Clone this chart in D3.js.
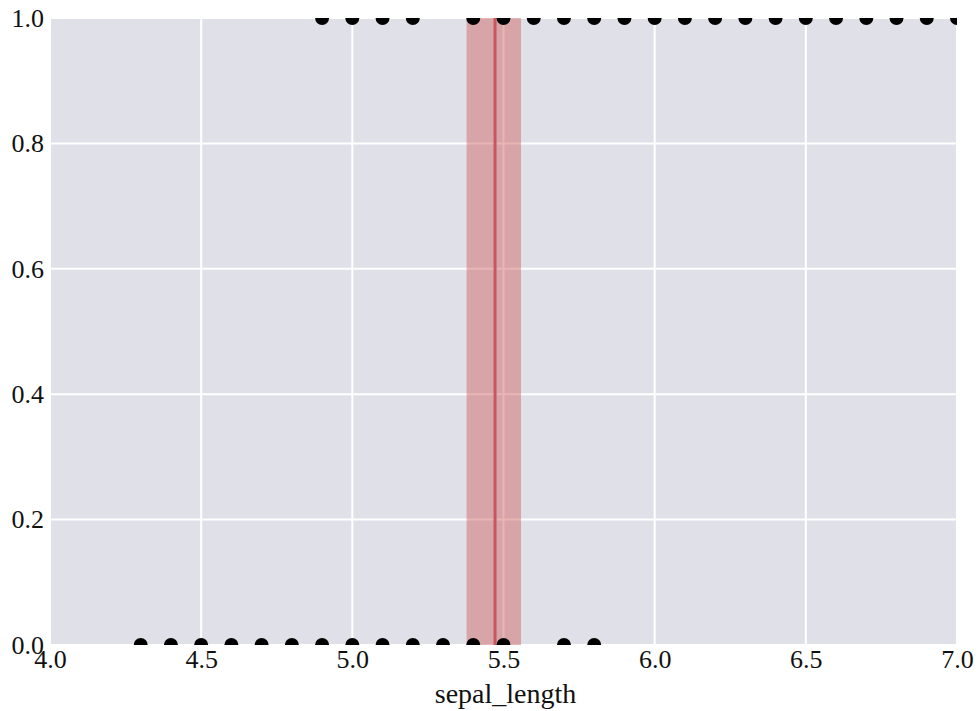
<!DOCTYPE html>
<html><head><meta charset="utf-8">
<script src="https://cdn.jsdelivr.net/npm/d3@7"></script>
<style>body{margin:0;background:#fff;} svg{display:block;} svg text{font-family:"Liberation Serif","DejaVu Serif",serif;}</style>
</head><body>
<script>
const xTicks = [4.0, 4.5, 5.0, 5.5, 6.0, 6.5, 7.0];
const yTicks = [0.0, 0.2, 0.4, 0.6, 0.8, 1.0];
const xLabel = "sepal_length";
const class0X = [4.3, 4.4, 4.5, 4.6, 4.7, 4.8, 4.9, 5.0, 5.1, 5.2, 5.3, 5.4, 5.5, 5.7, 5.8];
const class1X = [4.9, 5.0, 5.1, 5.2, 5.4, 5.5, 5.6, 5.7, 5.8, 5.9, 6.0, 6.1, 6.2, 6.3, 6.4, 6.5, 6.6, 6.7, 6.8, 6.9, 7.0];
const boundary = [5.472];
const boundaryCI = [5.378, 5.558];

const W = 979, H = 711;
const m = {left: 50, right: 22, top: 18, bottom: 66};
const svg = d3.select("body").append("svg").attr("width", W).attr("height", H);
const x = d3.scaleLinear().domain([4.0, 7.0]).range([m.left, W - m.right]);
const y = d3.scaleLinear().domain([0, 1]).range([H - m.bottom, m.top]);

svg.append("defs").append("clipPath").attr("id", "clip")
  .append("rect").attr("x", m.left).attr("y", m.top)
  .attr("width", x(7) - x(4)).attr("height", y(0) - y(1));

svg.append("rect").attr("x", m.left).attr("y", m.top)
  .attr("width", x(7) - x(4)).attr("height", y(0) - y(1)).attr("fill", "#e0e0e8");

const g = svg.append("g").attr("clip-path", "url(#clip)");
g.selectAll(".gx").data(xTicks).enter().append("line")
  .attr("x1", d => x(d)).attr("x2", d => x(d)).attr("y1", y(0)).attr("y2", y(1))
  .attr("stroke", "#fff").attr("stroke-width", 2);
g.selectAll(".gy").data(yTicks).enter().append("line")
  .attr("x1", x(4)).attr("x2", x(7)).attr("y1", d => y(d)).attr("y2", d => y(d))
  .attr("stroke", "#fff").attr("stroke-width", 2);

g.append("rect").attr("x", x(boundaryCI[0])).attr("y", y(1))
  .attr("width", x(boundaryCI[1]) - x(boundaryCI[0])).attr("height", y(0) - y(1))
  .attr("fill", "#cd5c5c").attr("fill-opacity", 0.45);
g.append("line").attr("x1", x(boundary[0])).attr("x2", x(boundary[0]))
  .attr("y1", y(0)).attr("y2", y(1)).attr("stroke", "#c9565e").attr("stroke-width", 3);

g.selectAll(".p0").data(class0X).enter().append("circle")
  .attr("cx", d => x(d)).attr("cy", y(0)).attr("r", 7).attr("fill", "#000");
g.selectAll(".p1").data(class1X).enter().append("circle")
  .attr("cx", d => x(d)).attr("cy", y(1)).attr("r", 7).attr("fill", "#000");

const xAxis = svg.append("g").attr("transform", `translate(0,${y(0)})`)
  .call(d3.axisBottom(x).tickValues(xTicks).tickFormat(d3.format(".1f")).tickSize(0).tickPadding(5));
const yAxis = svg.append("g").attr("transform", `translate(${m.left},0)`)
  .call(d3.axisLeft(y).tickValues(yTicks).tickFormat(d3.format(".1f")).tickSize(0).tickPadding(6));
[xAxis, yAxis].forEach(a => {
  a.attr("font-family", null).attr("font-size", null);
  a.select(".domain").remove();
  a.selectAll("text").style("font-size", "26px").attr("fill", "#111");
});

svg.append("text").attr("x", (x(4) + x(7)) / 2 + 2).attr("y", 703)
  .attr("text-anchor", "middle").style("font-size", "28px")
  .attr("fill", "#111").text(xLabel);
</script>
</body></html>
